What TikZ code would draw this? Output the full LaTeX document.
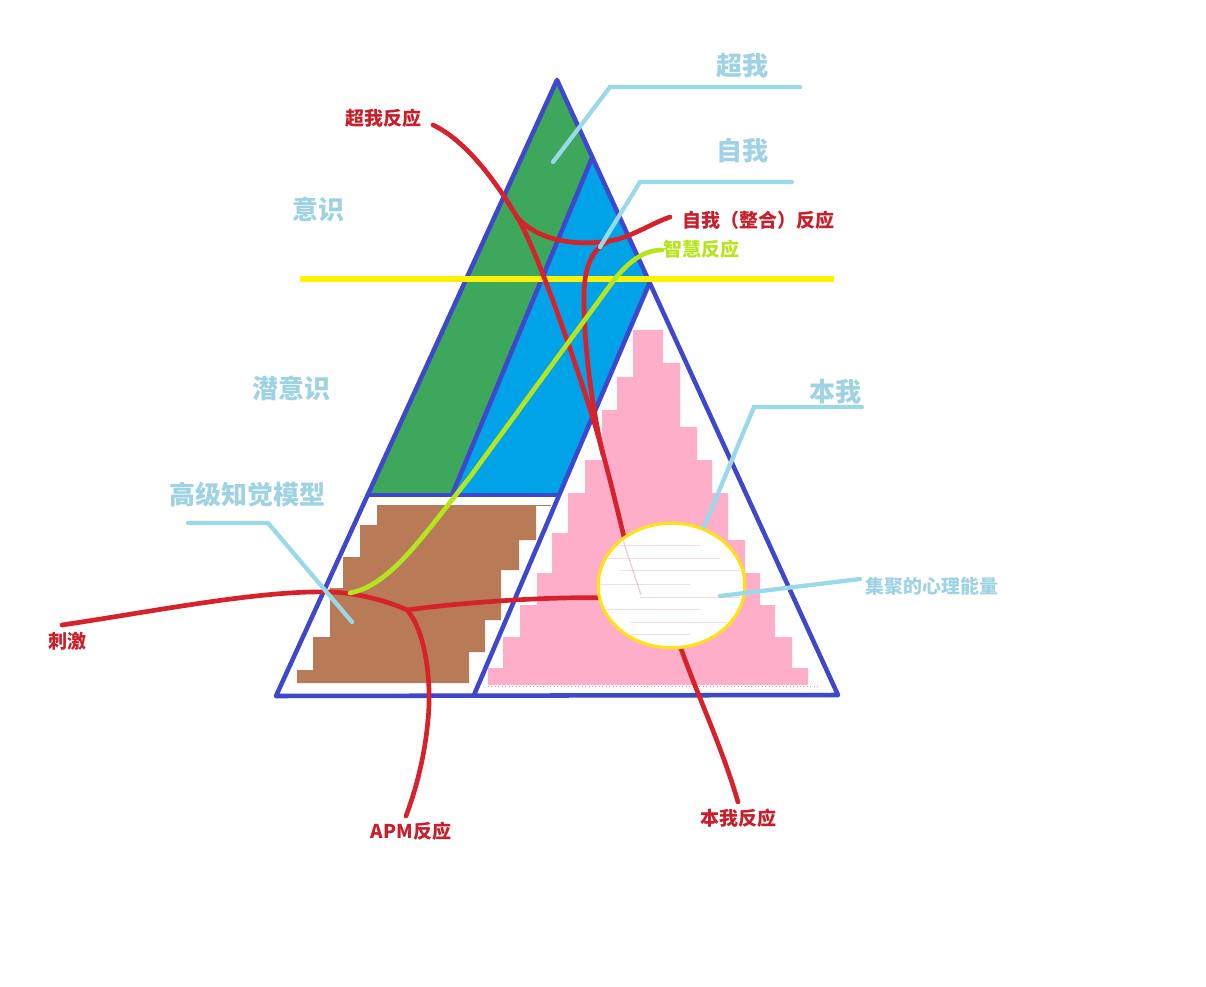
\documentclass[tikz,border=0pt]{standalone}
\usepackage{fontspec}
\newfontfamily\cjk{Noto Sans CJK SC}
\usetikzlibrary{shapes.geometric}
\definecolor{outc}{HTML}{3F48CC}
\definecolor{greenc}{HTML}{3DA85B}
\definecolor{bluec}{HTML}{00A2E8}
\definecolor{brownc}{HTML}{B97A57}
\definecolor{pinkc}{HTML}{FFAEC9}
\definecolor{yellowc}{HTML}{FFF200}
\definecolor{ellc}{HTML}{FFE11A}
\definecolor{limec}{HTML}{B5E61D}
\definecolor{redc}{HTML}{D7212B}
\definecolor{redt}{HTML}{C81F2B}
\definecolor{lblue}{HTML}{99D9EA}
\definecolor{lbluet}{HTML}{9FD3E3}
\definecolor{streak}{HTML}{D9A3B4}
\begin{document}
\begin{tikzpicture}[x=0.75pt,y=-0.75pt,
  outline/.style={draw=outc,line width=3.4pt,line join=round,line cap=round},
  redline/.style={draw=redc,line width=3.5pt,line cap=round,line join=round},
  limeline/.style={draw=limec,line width=3.5pt,line cap=round},
  leader/.style={draw=lblue,line width=3.2pt,line cap=round,line join=miter},
  biglabel/.style={text=lbluet,font={\cjk\bfseries\fontsize{19.5pt}{22pt}\selectfont},inner sep=0pt},
  smalllabel/.style={text=lbluet,font={\cjk\bfseries\fontsize{14.2pt}{16pt}\selectfont},inner sep=0pt},
  redlabel/.style={text=redt,font={\cjk\bfseries\fontsize{14.25pt}{16pt}\selectfont},inner sep=0pt},
  limelabel/.style={text=limec,font={\cjk\bfseries\fontsize{14.25pt}{16pt}\selectfont},inner sep=0pt}]
\useasboundingbox[fill=white] (0,0) rectangle (1206,987);

% key points of the pyramid
\coordinate (apex) at (557,80);
\coordinate (bl) at (276,696);
\coordinate (br) at (838,695);
\coordinate (bapex) at (592,158);
\coordinate (papex) at (649.5,283);
\coordinate (pbl) at (474,695);
\coordinate (hl) at (368,495);
\coordinate (hm) at (452,495);
\coordinate (hr) at (559,495);

% fills
\fill[greenc] (apex) -- (hl) -- (hm) -- (bapex) -- cycle;
\fill[bluec] (bapex) -- (papex) -- (hr) -- (hm) -- cycle;
\fill[brownc] (377,506) -- (536,506) -- (536,540) -- (519,540) -- (519,570) -- (501,570)
  -- (501,620) -- (485,620) -- (485,652) -- (469,652) -- (469,683) -- (297,683) -- (297,670)
  -- (313,670) -- (313,637) -- (330,637) -- (330,588) -- (343,588) -- (343,557) -- (360,557)
  -- (360,525) -- (377,525) -- cycle;
\draw[line width=0.6pt,color=brownc!70!gray] (377,505) -- (551,505);
\fill[pinkc] (633,330) -- (663,330) -- (663,363) -- (680,363) -- (680,427) -- (697,427)
  -- (697,460) -- (712,460) -- (712,493) -- (728,493) -- (728,540) -- (745,540) -- (745,573)
  -- (760,573) -- (760,605) -- (775,605) -- (775,637) -- (792,637) -- (792,668) -- (808,668)
  -- (808,685) -- (488,685) -- (488,668) -- (503,668) -- (503,637) -- (520,637) -- (520,605)
  -- (537,605) -- (537,573) -- (552,573) -- (552,533) -- (568,533) -- (568,493) -- (585,493)
  -- (585,460) -- (602,460) -- (602,410) -- (617,410) -- (617,377) -- (633,377) -- cycle;
\draw[line width=0.6pt,color=pinkc!60!gray,dotted] (488,686.5) -- (820,686.5);

% outlines
\draw[outline] (apex) -- (bl) -- (br) -- cycle;
\draw[outline] (bapex) -- (hm);
\draw[outline] (hl) -- (hr);
\draw[outline] (papex) -- (pbl);

% conscious / subconscious border
\coordinate (yl) at (300,279);
\coordinate (yr) at (834,279);
\draw[draw=yellowc,line width=4.2pt] (yl) -- (yr);

% red reaction curves
\coordinate (sA) at (433,125);
\coordinate (j1) at (517,217);
\coordinate (mA) at (595,425);
\coordinate (eA) at (632,570);
\coordinate (j2) at (609,241);
\coordinate (eB) at (670,217);
\coordinate (mC) at (584,305);
\coordinate (eC) at (603,455);
\coordinate (sD) at (672,622);
\coordinate (eD) at (738,802);
\coordinate (sE) at (62,625);
\coordinate (mE) at (330,592);
\coordinate (j3) at (407,610);
\coordinate (mF) at (428,720);
\coordinate (eF) at (406,816);
\coordinate (eG) at (612,598);
\draw[redline] (sA) .. controls (465,140) and (495,180) .. (j1)
  .. controls (535,245) and (575,360) .. (mA) .. controls (608,470) and (615,500) .. (eA);
\draw[redline] (j1) .. controls (535,238) and (570,247) .. (j2)
  .. controls (630,238) and (650,224) .. (eB);
\draw[redline] (j2) .. controls (590,250) and (583,270) .. (mC)
  .. controls (585,360) and (594,415) .. (eC);
\draw[redline] (sD) .. controls (690,680) and (720,740) .. (eD);
\draw[redline] (sE) .. controls (150,612) and (260,590) .. (mE)
  .. controls (360,593) and (390,602) .. (j3);
\draw[redline] (j3) .. controls (425,630) and (432,680) .. (mF)
  .. controls (424,765) and (412,800) .. (eF);
\draw[redline] (j3) .. controls (450,604) and (540,596) .. (eG);

% wisdom reaction
\coordinate (sL) at (350,593);
\coordinate (mL1) at (470,477);
\coordinate (mL2) at (614,280);
\coordinate (eL) at (662,250);
\draw[limeline] (sL) .. controls (390,585) and (420,540) .. (mL1) -- (mL2)
  .. controls (630,260) and (645,250) .. (eL);

% concentrated psychic energy
\node[draw=ellc,fill=white,line width=2.4pt,ellipse,inner sep=0pt,minimum width=110pt,minimum height=93.5pt] (energy) at (671.5,585.5) {};
\begin{scope}
\clip (671.5,585.5) ellipse [x radius=53pt, y radius=45pt];
\foreach \yy/\xa/\xb in {545/610/700, 558/605/720, 570/620/740, 584/600/690, 597/640/745, 609/605/700, 622/630/735, 634/610/690}
  \draw[streak,opacity=0.35,line width=0.7pt] (\xa,\yy) -- (\xb,\yy);
\draw[streak,opacity=0.5,line width=1pt] (623,540) -- (641,595);
\end{scope}

% labels
\node[biglabel] (superego) at (742,66) {超我};
\node[biglabel] (ego) at (742,151) {自我};
\node[biglabel] (consc) at (318,209) {意识};
\node[biglabel] (subc) at (291,388) {潜意识};
\node[biglabel] (apm) at (247,495) {高级知觉模型};
\node[biglabel] (id) at (835,392) {本我};
\node[smalllabel] (energylabel) at (932,586) {集聚的心理能量};
\node[redlabel] (rsuper) at (383,118) {超我反应};
\node[redlabel] (rego) at (758,220) {自我（整合）反应};
\node[limelabel] (rwise) at (701,249) {智慧反应};
\node[redlabel] (stim) at (67,641) {刺激};
\node[redlabel] (rapm) at (411,831) {APM反应};
\node[redlabel] (rid) at (738,818) {本我反应};

% leader lines
\coordinate (la1) at (553,162); \coordinate (la2) at (610,87); \coordinate (la3) at (800,87);
\coordinate (lb1) at (600,247); \coordinate (lb2) at (640,182); \coordinate (lb3) at (792,182);
\coordinate (lc1) at (352,622); \coordinate (lc2) at (268,523); \coordinate (lc3) at (188,523);
\coordinate (ld1) at (704,527); \coordinate (ld2) at (754,407); \coordinate (ld3) at (862,407);
\coordinate (le1) at (720,596); \coordinate (le2) at (860,579);
\draw[leader] (la1) -- (la2) -- (la3);
\draw[leader] (lb1) -- (lb2) -- (lb3);
\draw[leader] (lc1) -- (lc2) -- (lc3);
\draw[leader] (ld1) -- (ld2) -- (ld3);
\draw[leader] (le1) -- (le2);
\end{tikzpicture}
\end{document}
